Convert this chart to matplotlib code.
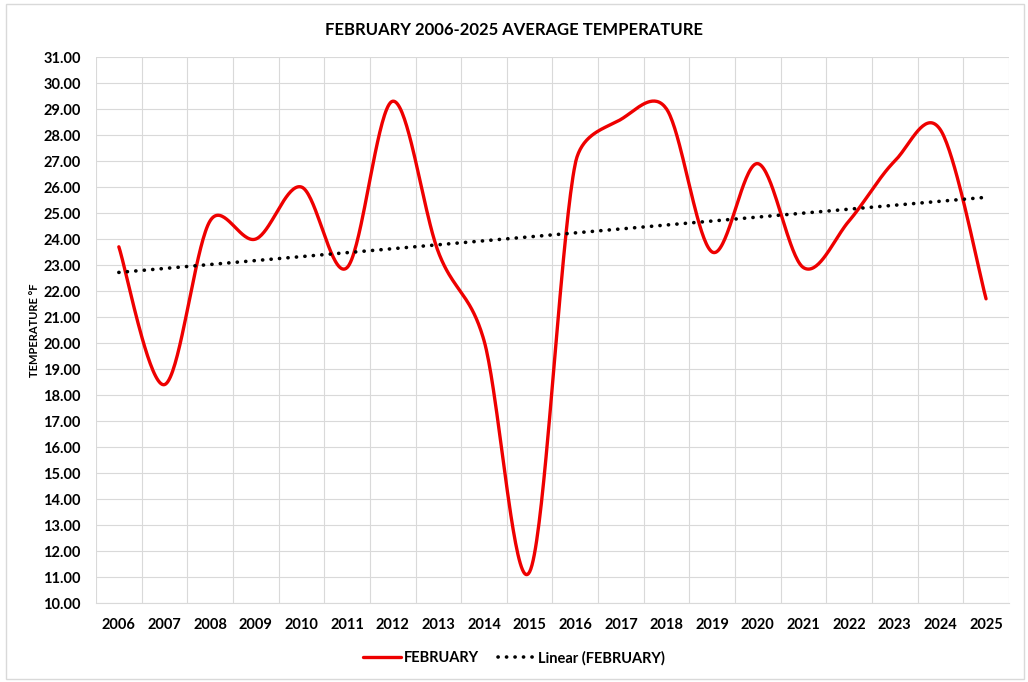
import numpy as np
import matplotlib.pyplot as plt
from matplotlib.patches import Rectangle

plt.rcParams['font.family'] = ['Lato', 'DejaVu Sans']
plt.rcParams['font.weight'] = 'bold'

years = ['2006', '2007', '2008', '2009', '2010', '2011', '2012', '2013', '2014', '2015',
         '2016', '2017', '2018', '2019', '2020', '2021', '2022', '2023', '2024', '2025']
temps = [23.7, 18.4, 24.7, 24.0, 26.0, 22.9, 29.3, 23.5, 20.1, 11.2,
         26.9, 28.6, 29.0, 23.5, 26.9, 22.9, 24.7, 27.0, 28.2, 21.7]


def smooth(x, y, xs=45.6, ys=26.0, n=40):
    # excel style smoothed line, worked out in screen units
    p = np.column_stack([np.asarray(x, float) * xs, np.asarray(y, float) * ys])
    p = np.vstack([p[:1], p, p[-1:]])
    t = np.linspace(0, 1, n)[:, None]
    out = []
    for i in range(1, len(p) - 2):
        p0, p1, p2, p3 = p[i - 1], p[i], p[i + 1], p[i + 2]
        d02 = np.hypot(*(p2 - p0))
        d12 = np.hypot(*(p2 - p1))
        d13 = np.hypot(*(p3 - p1))
        f = 1 / 6 if d02 / 6 < d12 / 2 else d12 / d02 / 2
        g = 1 / 6 if d13 / 6 < d12 / 2 else d12 / d13 / 2
        c1 = p1 + (p2 - p0) * f
        c2 = p2 - (p3 - p1) * g
        b = (1 - t) ** 3 * p1 + 3 * (1 - t) ** 2 * t * c1 + 3 * (1 - t) * t ** 2 * c2 + t ** 3 * p2
        out.append(b)
    out = np.vstack(out)
    return out[:, 0] / xs, out[:, 1] / ys


x = np.arange(len(years))
sx, sy = smooth(x, temps)
k, b = np.polyfit(x, temps, 1)

fig = plt.figure(figsize=(10.28, 6.82), dpi=100)
fig.patches.append(Rectangle((0.006, 0.005), 0.99, 0.989, transform=fig.transFigure,
                             fill=False, edgecolor='#d9d9d9', lw=1))
ax = fig.add_axes([0.0934, 0.1158, 0.888, 0.8006])

ax.plot(sx, sy, color='#ee0000', lw=2.4, label='FEBRUARY', solid_capstyle='round', zorder=3)
ax.plot([x[0], x[-1]], [k * x[0] + b, k * x[-1] + b], color='black', lw=2.6,
        linestyle=(0, (0.05, 2.3)), dash_capstyle='round', label='Linear (FEBRUARY)', zorder=4)

ax.set_xlim(-0.5, len(years) - 0.5)
ax.set_ylim(10, 31)
ax.set_yticks(np.arange(10, 31.5, 1))
ax.set_yticklabels(['%.2f' % v for v in np.arange(10, 31.5, 1)], fontsize=10.5, fontweight='bold')
ax.set_xticks(x)
ax.set_xticklabels(years, fontsize=10.5, fontweight='bold')
ax.set_xticks(np.arange(-0.5, len(years)), minor=True)
ax.tick_params(axis='both', which='both', length=0)
ax.tick_params(axis='x', pad=11)
ax.tick_params(axis='y', pad=11)
ax.grid(True, axis='y', color='#d9d9d9', lw=0.8)
ax.grid(True, axis='x', which='minor', color='#d9d9d9', lw=0.8)
for s in ax.spines.values():
    s.set_visible(False)
ax.spines['bottom'].set_visible(True)
ax.spines['bottom'].set_color('#d9d9d9')
ax.set_axisbelow(True)

ax.set_ylabel('TEMPERATURE °F', fontsize=8, fontweight='bold', labelpad=2)
fig.suptitle('FEBRUARY 2006-2025 AVERAGE TEMPERATURE', fontsize=12, fontweight='bold', y=0.968)

fig.legend(loc='lower center', bbox_to_anchor=(0.5, 0.005), ncol=2, frameon=False,
           fontsize=10.5, handlelength=2.6, columnspacing=1.3, handletextpad=0.2)

fig.savefig('out.png', dpi=100)
